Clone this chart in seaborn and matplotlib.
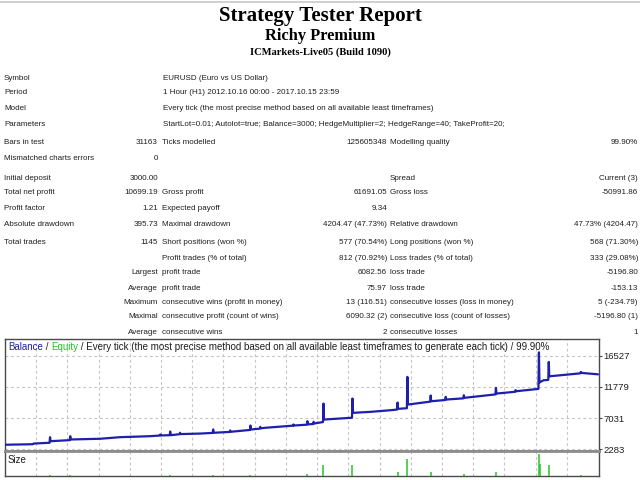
import numpy as np
import pandas as pd
import matplotlib
matplotlib.use("Agg")
import matplotlib.pyplot as plt
from matplotlib.lines import Line2D
import seaborn as sns

# ---------------- data ----------------
report_title = "Strategy Tester Report"
expert_name = "Richy Premium"
server_line = "ICMarkets-Live05 (Build 1090)"

info_labels = ["Symbol", "Period", "Model", "Parameters"]
info_values = [
    "EURUSD (Euro vs US Dollar)",
    "1 Hour (H1) 2012.10.16 00:00 - 2017.10.15 23:59",
    "Every tick (the most precise method based on all available least timeframes)",
    "StartLot=0.01; Autolot=true; Balance=3000; HedgeMultiplier=2; HedgeRange=40; TakeProfit=20;",
]

stats_col_a = ["Bars in test", "Mismatched charts errors", "Initial deposit", "Total net profit",
               "Profit factor", "Absolute drawdown", "Total trades", "", "", "", "", "", ""]
stats_col_b = ["31163", "0", "3000.00", "10699.19", "1.21", "395.73", "1145", "",
               "Largest", "Average", "Maximum", "Maximal", "Average"]
stats_col_c = ["Ticks modelled", "", "", "Gross profit", "Expected payoff", "Maximal drawdown",
               "Short positions (won %)", "Profit trades (% of total)", "profit trade", "profit trade",
               "consecutive wins (profit in money)", "consecutive profit (count of wins)", "consecutive wins"]
stats_col_d = ["125605348", "", "", "61691.05", "9.34", "4204.47 (47.73%)", "577 (70.54%)",
               "812 (70.92%)", "6082.56", "75.97", "13 (116.51)", "6090.32 (2)", "2"]
stats_col_e = ["Modelling quality", "", "Spread", "Gross loss", "", "Relative drawdown",
               "Long positions (won %)", "Loss trades (% of total)", "loss trade", "loss trade",
               "consecutive losses (loss in money)", "consecutive loss (count of losses)", "consecutive losses"]
stats_col_f = ["99.90%", "", "Current (3)", "-50991.86", "", "47.73% (4204.47)", "568 (71.30%)",
               "333 (29.08%)", "-5196.80", "-153.13", "5 (-234.79)", "-5196.80 (1)", "1"]

chart_header_parts = ["Balance", " / ", "Equity",
                      " / Every tick (the most precise method based on all available least timeframes to generate each tick) / 99.90%"]
price_ticks = [2283, 7031, 11779, 16527]

balance_trade = [0, 54, 55, 86, 87, 88, 125, 126, 127, 184, 222, 280, 299, 300, 301, 318, 319, 320,
                 337, 338, 339, 377, 401, 402, 403, 434, 435, 436, 473, 474, 475, 492, 493, 494, 503,
                 556, 557, 558, 583, 584, 585, 595, 596, 597, 614, 615, 616, 667, 670, 671, 672, 706,
                 745, 757, 758, 759, 776, 777, 778, 821, 822, 823, 850, 851, 852, 885, 886, 887,
                 947, 948, 949, 985, 986, 987, 1030, 1031, 1032, 1036, 1040, 1049, 1050, 1051,
                 1111, 1112, 1113, 1145]
balance_value = [3000, 3080, 3180, 3300, 4150, 3540, 3700, 4300, 3800, 3910, 4150, 4300, 4400, 4560, 4420,
                 4450, 5010, 4450, 4600, 4820, 4620, 4700, 4800, 5320, 4820, 4950, 5170, 4970, 5250,
                 5920, 5320, 5450, 5730, 5500, 5580, 5900, 6080, 5920, 6050, 6580, 6100, 6150, 6490,
                 6230, 6450, 9260, 6830, 7090, 7100, 10020, 7850, 8000, 8250, 8350, 9410, 8460, 8550,
                 13310, 9110, 9550, 10480, 9610, 9800, 10280, 9870, 10050, 10520, 10130, 10650, 11640,
                 10780, 11050, 11300, 11130, 11490, 17040, 12450, 12640, 12800, 12850, 15590, 13400,
                 13850, 14070, 13920, 13700]

size_trade = [87, 126, 319, 402, 474, 584, 615, 671, 758, 777, 822, 886, 948, 1031, 1033, 1050, 1112]
size_lots = [0.04, 0.04, 0.04, 0.06, 0.04, 0.08, 0.44, 0.44, 0.16, 0.70, 0.16, 0.08, 0.16, 0.88, 0.50,
             0.44, 0.06]

# ---------------- style ----------------
sns.set_style("white")
plt.rcParams["font.family"] = ["Liberation Sans", "DejaVu Sans"]

W, H = 640, 480
fig = plt.figure(figsize=(6.4, 4.8), dpi=100)
fig.patch.set_facecolor("white")


def fx(x):
    return x / W


def fy(y):
    return 1 - y / H


TXT = "#1e1e1e"
TS = 5.75

# top thin rule
fig.add_artist(Line2D([0, 1], [fy(1.5), fy(1.5)], color="#c8c8c8", lw=1.2))

# titles
serif = ["Liberation Serif", "DejaVu Serif"]
fig.text(0.5, fy(21), report_title, ha="center", va="baseline", fontsize=15.0, fontweight="bold",
         family=serif, color="black")
fig.text(0.5, fy(40.5), expert_name, ha="center", va="baseline", fontsize=11.8, fontweight="bold",
         family=serif, color="black")
fig.text(0.5, fy(55), server_line, ha="center", va="baseline", fontsize=7.6, fontweight="bold",
         family=serif, color="black")

# info block
info_y = [78, 93, 109, 124]
for yy, lab, val in zip(info_y, info_labels, info_values):
    fig.text(fx(4), fy(yy), lab, ha="left", va="center", fontsize=TS, color=TXT)
    fig.text(fx(163), fy(yy), val, ha="left", va="center", fontsize=TS, color=TXT)

# stats block
stats_y = [143, 159, 178, 193, 209, 224, 243, 258, 273, 288, 302, 317, 332]
for i, yy in enumerate(stats_y):
    fig.text(fx(4), fy(yy), stats_col_a[i], ha="left", va="center", fontsize=TS, color=TXT)
    fig.text(fx(158), fy(yy), stats_col_b[i], ha="right", va="center", fontsize=TS, color=TXT)
    fig.text(fx(162), fy(yy), stats_col_c[i], ha="left", va="center", fontsize=TS, color=TXT)
    fig.text(fx(387), fy(yy), stats_col_d[i], ha="right", va="center", fontsize=TS, color=TXT)
    fig.text(fx(390), fy(yy), stats_col_e[i], ha="left", va="center", fontsize=TS, color=TXT)
    fig.text(fx(638), fy(yy), stats_col_f[i], ha="right", va="center", fontsize=TS, color=TXT)

# ---------------- chart ----------------
X_MAX = 1147
grid_x = 60 + 60.3 * np.arange(18)
BLUE = "#1f1fae"
GREEN = "#27c227"
FRAME = "#4a4a4a"
SEP = "#8c8c8c"

ax = fig.add_axes([fx(5), fy(451), fx(599) - fx(5), (451 - 339) / H])
bal_df = pd.DataFrame({"trade": balance_trade, "balance": balance_value})
sns.lineplot(data=bal_df, x="trade", y="balance", ax=ax, color=BLUE, lw=1.6, zorder=3)
ax.set_xlim(0, X_MAX)
ax.set_ylim(2050, 19070)
ax.set_xticks(grid_x)
ax.set_yticks(price_ticks)
ax.grid(True, color="#c4c4c4", lw=0.8, ls=(0, (2.5, 2.5)), zorder=0)
ax.set_xlabel("")
ax.set_ylabel("")
ax.yaxis.tick_right()
ax.tick_params(axis="y", which="both", length=2.0, pad=1.2, labelsize=6.8, colors=FRAME,
               labelcolor=TXT, direction="out")
ax.tick_params(axis="x", length=0, labelbottom=False)
for s in ["top", "left", "right"]:
    ax.spines[s].set_color(FRAME)
    ax.spines[s].set_linewidth(1.0)
ax.spines["bottom"].set_color(SEP)
ax.spines["bottom"].set_linewidth(2.0)

sax = fig.add_axes([fx(5), fy(476), fx(599) - fx(5), (476 - 451) / H])
sax.vlines(size_trade, 0, size_lots, color=GREEN, lw=1.1, zorder=3)
sax.set_xlim(0, X_MAX)
sax.set_ylim(0, 1.0)
sax.set_xticks(grid_x)
sax.set_yticks([])
sax.grid(True, axis="x", color="#c4c4c4", lw=0.8, ls=(0, (2.5, 2.5)), zorder=0)
sax.tick_params(axis="x", length=3, width=1, colors=FRAME, labelbottom=False, direction="out")
for s in ["bottom", "left", "right"]:
    sax.spines[s].set_color(FRAME)
    sax.spines[s].set_linewidth(1.0)
sax.spines["top"].set_color(SEP)
sax.spines["top"].set_linewidth(2.0)

fig.text(fx(8), fy(460), "Size", ha="left", va="center", fontsize=7.0, color=TXT)

# chart header with coloured words
fig.canvas.draw()
renderer = fig.canvas.get_renderer()
header_colors = [BLUE, TXT, GREEN, TXT]
xpos = fx(8)
for part, col in zip(chart_header_parts, header_colors):
    t = fig.text(xpos, fy(347), part, ha="left", va="center", fontsize=7.0, color=col)
    bb = t.get_window_extent(renderer=renderer)
    xpos += bb.width / W

fig.savefig("out.png", dpi=100, facecolor="white")
